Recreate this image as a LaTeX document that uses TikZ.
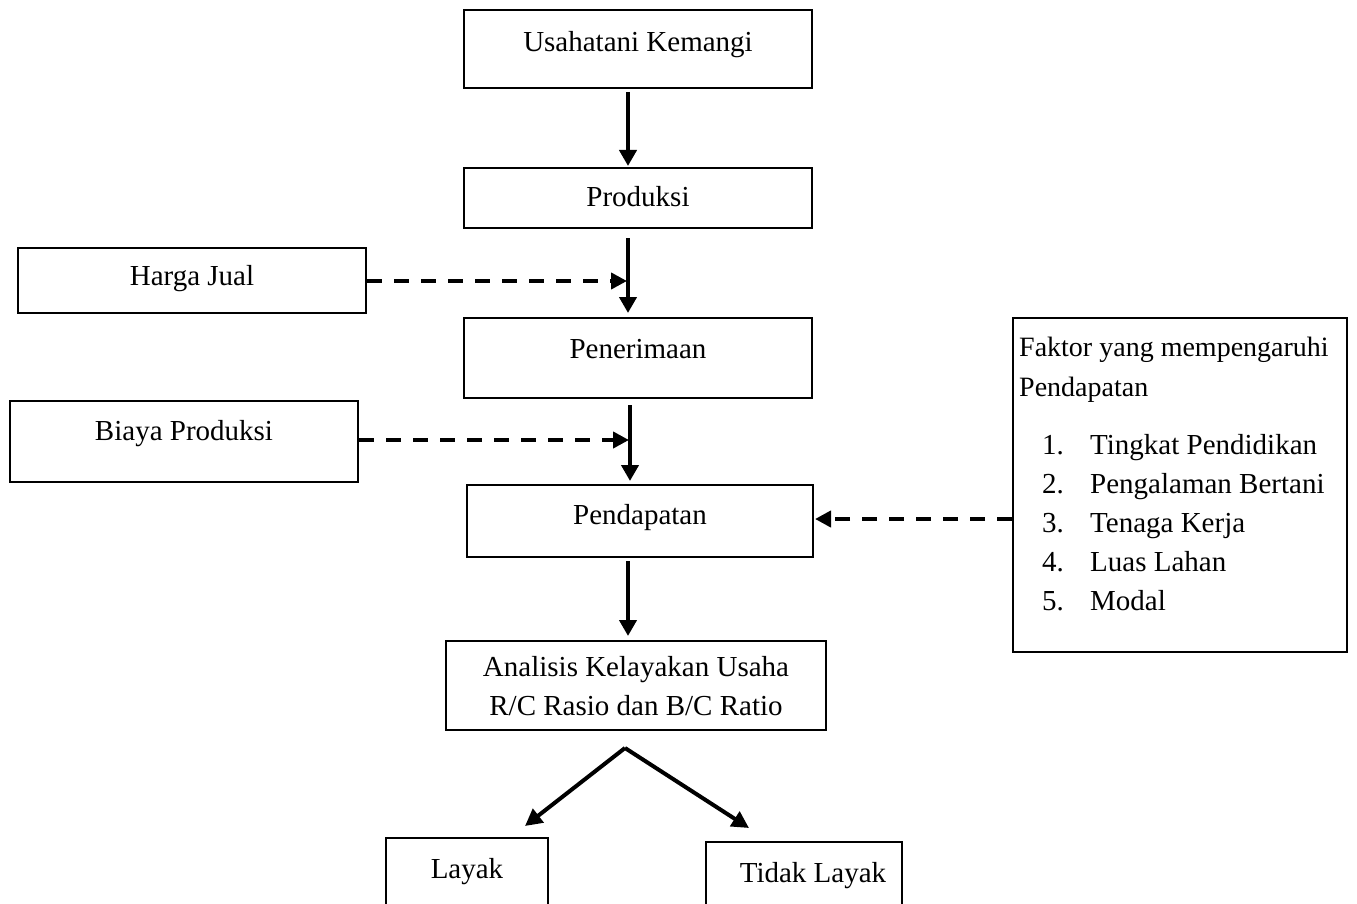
\documentclass[tikz,border=0pt]{standalone}
\usepackage{fontspec}
\setmainfont{Liberation Serif}
\usetikzlibrary{arrows.meta}
\begin{document}
\begin{tikzpicture}[x=1pt,y=-1pt,
  box/.style={draw,line width=2pt},
  lbl/.style={anchor=base,inner sep=0pt,font=\fontsize{29}{34}\selectfont},
  lbll/.style={anchor=base west,inner sep=0pt,font=\fontsize{29}{34}\selectfont},
  hdr/.style={anchor=base west,inner sep=0pt,font=\fontsize{28}{32}\selectfont},
  arr/.style={line width=4pt,-{Triangle[length=16pt,width=17pt]}},
  darr/.style={line width=4pt,dash pattern=on 15pt off 12pt,-{Triangle[length=16pt,width=16pt]}}]
\clip (0,0) rectangle (1357,904);
\fill[white] (0,0) rectangle (1357,904);
% boxes
\node[box,minimum width=348pt,minimum height=78pt] (usa) at (638,49) {};
\node[box,minimum width=348pt,minimum height=60pt] (pro) at (638,198) {};
\node[box,minimum width=348pt,minimum height=65pt] (hj) at (192,280.5) {};
\node[box,minimum width=348pt,minimum height=80pt] (pen) at (638,358) {};
\node[box,minimum width=348pt,minimum height=81pt] (bp) at (184,441.5) {};
\node[box,minimum width=346pt,minimum height=72pt] (pdt) at (640,521) {};
\node[box,minimum width=380pt,minimum height=89pt] (ana) at (636,685.5) {};
\node[box,minimum width=162pt,minimum height=90pt] (ly) at (467,883) {};
\node[box,minimum width=196pt,minimum height=90pt] (tl) at (804,887) {};
\node[box,minimum width=334pt,minimum height=334pt] (fak) at (1180,485) {};
% texts
\node[lbl] (tusa) at (638,52) {Usahatani Kemangi};
\node[lbl] (tpro) at (638,207) {Produksi};
\node[lbl] (thj) at (192,285) {Harga Jual};
\node[lbl] (tpen) at (638,358) {Penerimaan};
\node[lbl] (tbp) at (184,440) {Biaya Produksi};
\node[lbl] (tpdt) at (640,524) {Pendapatan};
\node[lbl] (tana1) at (636,676) {Analisis Kelayakan Usaha};
\node[lbl] (tana2) at (636,715) {R/C Rasio dan B/C Ratio};
\node[lbl] (tly) at (467,878) {Layak};
\node[lbl] (ttl) at (813,882) {Tidak Layak};
\node[hdr] (h1) at (1019,356) {Faktor yang mempengaruhi};
\node[hdr] (h2) at (1019,396) {Pendapatan};
\foreach \i/\t [count=\k] in {1/Tingkat Pendidikan,2/Pengalaman Bertani,3/Tenaga Kerja,4/Luas Lahan,5/Modal}{
  \node[lbll] (n\k) at (1042,{415+39*\k}) {\i.};
  \node[lbll] (i\k) at (1090,{415+39*\k}) {\t};
}
% connectors
\coordinate (a1s) at (628,92); \coordinate (a1e) at (628,166);
\draw[arr] (a1s) -- (a1e);
\coordinate (a2s) at (628,238); \coordinate (a2e) at (628,313);
\draw[arr] (a2s) -- (a2e);
\coordinate (a3s) at (630,405); \coordinate (a3e) at (630,481);
\draw[arr] (a3s) -- (a3e);
\coordinate (a4s) at (628,561); \coordinate (a4e) at (628,636);
\draw[arr] (a4s) -- (a4e);
\coordinate (hje) at (627,281);
\draw[darr] (hj.east |- hje) -- (hje);
\coordinate (bpe) at (629,440);
\draw[darr] (bp.east |- bpe) -- (bpe);
\coordinate (fke) at (815,519);
\draw[darr] (fak.west |- fke) -- (fke);
\coordinate (sp) at (625,748);
\coordinate (spl) at (525,826);
\coordinate (spr) at (749,828);
\draw[line width=4pt,-{Triangle[length=17pt,width=17pt]}] (sp) -- (spl);
\draw[line width=4pt,-{Triangle[length=17pt,width=17pt]}] (sp) -- (spr);
\end{tikzpicture}
\end{document}
